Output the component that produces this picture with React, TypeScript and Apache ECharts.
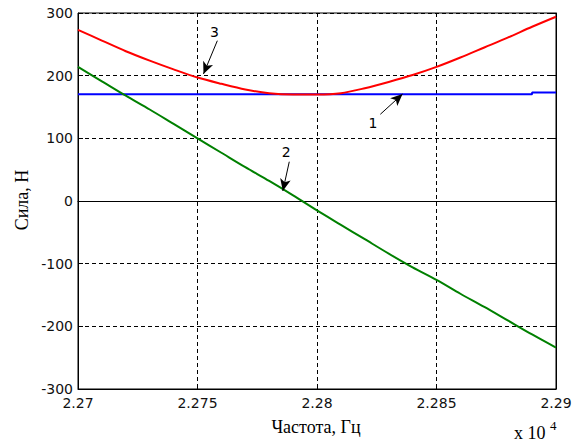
import React, { useEffect, useRef } from "react";
import * as echarts from "echarts";

const freq = [22700, 22710, 22720, 22730, 22740, 22750, 22760, 22770, 22780, 22790, 22800, 22810, 22820, 22830, 22840, 22850, 22860, 22870, 22880, 22890, 22900];
const force2 = [214, 191, 168, 146, 123, 100, 77, 54, 32, 9, -15, -38, -61, -84, -106, -126, -148, -169, -191, -213, -234];
const force3 = [273, 256, 239, 224, 210, 197, 187, 178, 172, 170, 170, 172, 180, 190, 201, 214, 229, 245, 261, 278, 294];
const freq1 = [22700, 22890, 22890, 22900];
const force1 = [170.5, 170.5, 173, 173];

const xTicks = [2.27, 2.275, 2.28, 2.285, 2.29];
const yTicks = [-300, -200, -100, 0, 100, 200, 300];

const arrowLabels = ["1", "2", "3"];
const arrowLabelPos = [[22823.4, 125], [22787.1, 78.7], [22757.1, 270.2]];
const arrowFrom = [[22826.5, 138.4], [22788.4, 62.7], [22758.3, 255.8]];
const arrowTo = [[22835.8, 170.7], [22785.7, 16], [22752.5, 202.7]];

const tickFont = "DejaVu Sans";
const serif = "Liberation Serif";

export default function App() {
  const ref = useRef<HTMLDivElement>(null);
  useEffect(() => {
    if (!ref.current) return;
    const chart = echarts.init(ref.current, undefined, { renderer: "svg" });
    const xMin = xTicks[0] * 10000;
    const xMax = xTicks[xTicks.length - 1] * 10000;
    const yMin = yTicks[0];
    const yMax = yTicks[yTicks.length - 1];
    const gridLine = { show: true, lineStyle: { color: "#000", width: 1, type: [4, 3] as any } };
    chart.setOption({
      animation: false,
      backgroundColor: "#fff",
      grid: { left: 78, right: 24, top: 13, bottom: 54, show: true, borderColor: "#000", borderWidth: 1, backgroundColor: "transparent" },
      xAxis: [
        {
          type: "value", min: xMin, max: xMax, interval: 50,
          axisLine: { show: true, onZero: false, lineStyle: { color: "#000", width: 1 } },
          axisTick: { show: true, inside: true, length: 5, lineStyle: { color: "#000" } },
          axisLabel: { color: "#111", fontFamily: tickFont, fontSize: 14, margin: 7, formatter: (v: number) => String(+(v / 10000).toFixed(4)) },
          splitLine: gridLine,
        },
        {
          type: "value", position: "top", min: xMin, max: xMax, interval: 50,
          axisLine: { show: true, lineStyle: { color: "#000" } },
          axisTick: { show: true, inside: true, length: 5, lineStyle: { color: "#000" } },
          axisLabel: { show: false }, splitLine: { show: false },
        },
      ],
      yAxis: [
        {
          type: "value", min: yMin, max: yMax, interval: 100,
          axisLine: { show: true, onZero: false, lineStyle: { color: "#000", width: 1 } },
          axisTick: { show: true, inside: true, length: 5, lineStyle: { color: "#000" } },
          axisLabel: { color: "#111", fontFamily: tickFont, fontSize: 14, margin: 5 },
          splitLine: gridLine,
        },
        {
          type: "value", position: "right", min: yMin, max: yMax, interval: 100,
          axisLine: { show: true, lineStyle: { color: "#000" } },
          axisTick: { show: true, inside: true, length: 5, lineStyle: { color: "#000" } },
          axisLabel: { show: false }, splitLine: { show: false },
        },
      ],
      series: [
        {
          name: "1", type: "line", showSymbol: false, symbol: "none",
          data: freq1.map((f, i) => [f, force1[i]]),
          lineStyle: { color: "#0000ff", width: 2 }, z: 3,
        },
        {
          name: "2", type: "line", showSymbol: false, symbol: "none", smooth: 0.3,
          data: freq.map((f, i) => [f, force2[i]]),
          lineStyle: { color: "#008000", width: 2 }, z: 4,
        },
        {
          name: "3", type: "line", showSymbol: false, symbol: "none", smooth: 0.3,
          data: freq.map((f, i) => [f, force3[i]]),
          lineStyle: { color: "#ff0000", width: 2 }, z: 5,
          markLine: {
            silent: true, symbol: ["none", "arrow"], symbolSize: [8, 12],
            lineStyle: { color: "#000", width: 1, type: "solid" },
            label: { show: false },
            data: arrowFrom.map((p, i) => [{ coord: p }, { coord: arrowTo[i] }]),
          },
          markPoint: {
            silent: true, symbol: "circle", symbolSize: 0,
            itemStyle: { color: "transparent" },
            label: { show: true, position: "inside", formatter: "{b}", color: "#000", fontFamily: tickFont, fontSize: 14 },
            data: arrowLabelPos.map((p, i) => ({ coord: p, name: arrowLabels[i] })),
          },
        },
      ],
      graphic: [
        { type: "text", x: 22, y: 200, rotation: Math.PI / 2, style: { text: "Сила, Н", fontFamily: serif, fontSize: 18, fill: "#000", align: "center", verticalAlign: "middle" } },
        { type: "text", x: 316, y: 427, style: { text: "Частота, Гц", fontFamily: serif, fontSize: 18, fill: "#000", align: "center", verticalAlign: "middle" } },
        { type: "text", x: 514, y: 442, style: { text: "x 10", fontFamily: serif, fontSize: 18, fill: "#000", align: "left", verticalAlign: "bottom" } },
        { type: "text", x: 550, y: 425, style: { text: "4", fontFamily: serif, fontSize: 13, fill: "#000", align: "left", verticalAlign: "middle" } },
      ],
    });
    return () => chart.dispose();
  }, []);
  return <div ref={ref} style={{ position: "fixed", left: 0, top: 0, width: 580, height: 443 }} />;
}
